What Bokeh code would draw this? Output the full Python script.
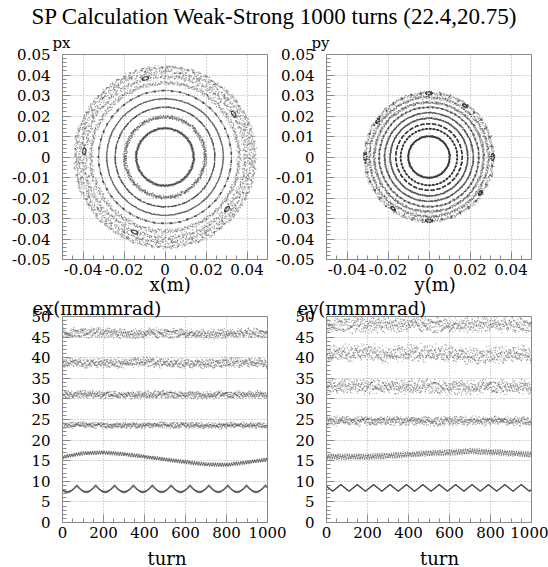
import numpy as np
from bokeh.plotting import figure
from bokeh.layouts import column, row
from bokeh.models import Range1d, FixedTicker, Title
from bokeh.core.properties import value
from bokeh.embed import file_html
from bokeh.resources import INLINE

# ---------------- data ----------------
title_text = "SP Calculation Weak-Strong 1000 turns (22.4,20.75)"
turns = np.arange(1000)

phase_ticks_x = [-0.04, -0.02, 0.0, 0.02, 0.04]
phase_labels_x = ["-0.04", "-0.02", "0", "0.02", "0.04"]
phase_ticks_y = [-0.05, -0.04, -0.03, -0.02, -0.01, 0.0, 0.01, 0.02, 0.03, 0.04, 0.05]
phase_labels_y = ["-0.05", "-0.04", "-0.03", "-0.02", "-0.01", "0",
                  "0.01", "0.02", "0.03", "0.04", "0.05"]
turn_ticks = [0, 200, 400, 600, 800, 1000]
turn_labels = ["0", "200", "400", "600", "800", "1000"]
emit_ticks = [0, 5, 10, 15, 20, 25, 30, 35, 40, 45, 50]
emit_labels = ["0", "5", "10", "15", "20", "25", "30", "35", "40", "45", "50"]

# horizontal phase space: invariant circles (m), radial spread, tunes
x_ring_radius = [0.0140, 0.0196, 0.0243, 0.0284, 0.0324, 0.0362, 0.0393, 0.0417, 0.0438]
x_ring_spread = [0.0007, 0.0011, 0.0003, 0.0003, 0.0004, 0.0014, 0.0015, 0.0015, 0.0012]
x_ring_tune = [0.386237, 0.388951, 0.390813, 0.392677, 0.394269, 0.395531, 0.396617, 0.397389, 0.398143]
x_island_radius = [0.0395]
x_island_angle = [32.0]          # degrees, 5 islands (tune 0.4)
x_island_size = [0.0008]

# vertical phase space
y_ring_radius = [0.0101, 0.0138, 0.0162, 0.0189, 0.0216, 0.0243, 0.0267, 0.0291, 0.0312]
y_ring_spread = [0.0005, 0.0003, 0.0003, 0.0004, 0.0004, 0.0005, 0.0008, 0.0010, 0.0011]
y_ring_tune = [0.738917, 0.741283, 0.742861, 0.744219, 0.745337, 0.746271, 0.747043, 0.747719, 0.748307]
y_island_radius = [0.0311, 0.0306]
y_island_angle = [90.0, 55.0]    # degrees, 4 islands each (tune 0.75)
y_island_size = [0.0008, 0.0006]

# emittance (pi mm mrad): band centre read every 100 turns, half widths
trend_turns = [0, 100, 200, 300, 400, 500, 600, 700, 800, 900, 1000]
ex_trend = [
    [8.2, 8.2, 8.2, 8.2, 8.2, 8.2, 8.2, 8.2, 8.2, 8.2, 8.2],
    [15.9, 16.8, 17.0, 16.6, 16.0, 15.3, 14.7, 14.1, 14.0, 14.6, 15.3],
    [23.6, 23.7, 23.6, 23.5, 23.6, 23.7, 23.6, 23.5, 23.5, 23.6, 23.6],
    [31.0, 31.1, 31.0, 30.9, 31.0, 31.1, 31.0, 30.9, 31.0, 31.1, 31.0],
    [38.9, 38.8, 38.6, 38.8, 39.0, 38.8, 38.6, 38.7, 38.9, 38.8, 38.7],
    [46.0, 46.1, 46.0, 45.8, 45.9, 46.0, 45.9, 45.7, 45.8, 46.0, 45.9],
]
ex_halfwidth = [0.8, 0.5, 0.85, 1.05, 1.4, 1.4]
ey_trend = [
    [8.4, 8.4, 8.4, 8.4, 8.4, 8.4, 8.4, 8.4, 8.4, 8.4, 8.4],
    [16.0, 16.0, 16.0, 16.2, 16.5, 16.8, 17.0, 17.3, 17.1, 16.8, 16.5],
    [24.7, 24.6, 24.7, 24.6, 24.7, 24.6, 24.6, 24.7, 24.6, 24.6, 24.6],
    [33.0, 33.0, 32.9, 32.9, 33.0, 33.0, 32.8, 32.8, 32.9, 33.0, 32.9],
    [41.0, 41.3, 41.2, 40.9, 41.1, 41.3, 41.0, 40.7, 40.6, 40.8, 41.0],
    [48.2, 48.0, 47.8, 48.0, 48.2, 48.0, 47.8, 48.0, 48.2, 48.0, 47.9],
]
ey_halfwidth = [0.8, 0.8, 1.3, 2.0, 2.4, 2.2]
ex_core_period = 92.0   # turns between minima of the lowest ex band
ey_core_period = 80.0   # turns between peaks of the lowest ey band

TITLE_FONT = "'Liberation Serif', 'Times New Roman', serif"
FONT = "DejaVu Serif"
DOT = "#303030"
FRAME = "#8a8a8a"
SQRT2, SQRT3, SQRT5, SQRT7 = np.sqrt(2), np.sqrt(3), np.sqrt(5), np.sqrt(7)


def weyl(n, a, b):
    """deterministic equidistributed sequence in [-1, 1]"""
    return 2.0 * np.mod(a * n * n + b * n, 1.0) - 1.0


def ring_track(radius, spread, tune, qmod):
    xs, ys = [], []
    for i, (r0, dr, q) in enumerate(zip(radius, spread, tune)):
        ph = 2 * np.pi * q * turns + 0.7 * i + 0.05 * np.sin(2 * np.pi * qmod * turns + i)
        r = r0 + dr * (0.55 * weyl(turns, SQRT2 * (i + 1), SQRT3) + 0.45 * weyl(turns, SQRT5 / (i + 2), SQRT7))
        xs.append(r * np.cos(ph))
        ys.append(r * np.sin(ph))
    return np.concatenate(xs), np.concatenate(ys)


def island_track(radius, angle, size, step):
    xs, ys = [], []
    for r0, a0, s in zip(radius, angle, size):
        k = np.arange(250)
        base = np.deg2rad(a0) + 2 * np.pi * step * k
        psi = 2 * np.pi * 0.0937 * k
        rr = r0 + s * np.cos(psi)
        aa = base + (2.0 * s / r0) * np.sin(psi)
        xs.append(rr * np.cos(aa))
        ys.append(rr * np.sin(aa))
    return np.concatenate(xs), np.concatenate(ys)


def trend(vals):
    return np.interp(turns, trend_turns, vals)


def bands(trends, halfwidth, core, core_period):
    ts, es = [], []
    for k, (tv, hw) in enumerate(zip(trends, halfwidth)):
        c = trend(tv)
        if k == 0:
            if core == "x":
                ph = np.pi * (turns - 24) / core_period
                e = c + hw * (1 - 2 * np.abs(np.cos(ph))) \
                    + 0.15 * np.cos(np.pi * turns) * np.cos(2 * ph)
            else:
                u = (turns - 70) / core_period
                e = c + hw * (1 - 4 * np.abs(u - np.floor(u + 0.5)))
        elif k == 1:
            u = turns / 11.3
            e = c + hw * (0.8 * (1 - 4 * np.abs(u - np.floor(u + 0.5)))
                          + 0.2 * weyl(turns, SQRT3, SQRT2))
        else:
            e = c + hw * (0.6 * weyl(turns, SQRT2 * k, SQRT5) + 0.4 * weyl(turns, SQRT7 / k, SQRT3))
        ts.append(turns)
        es.append(e)
    return np.concatenate(ts), np.concatenate(es)


def styled(width, height, left, right, top, bottom, xr, yr,
           xticks, xlabels, xminor, yticks, ylabels, yminor):
    p = figure(width=width, height=height, x_range=Range1d(*xr), y_range=Range1d(*yr),
               output_backend="svg", toolbar_location=None, title=None,
               min_border_left=left, min_border_right=right,
               min_border_top=top, min_border_bottom=bottom)
    p.outline_line_color = FRAME
    p.outline_line_width = 1
    for ax, ticks, labels, minor in ((p.xaxis[0], xticks, xlabels, xminor),
                                     (p.yaxis[0], yticks, ylabels, yminor)):
        ax.ticker = FixedTicker(ticks=ticks, minor_ticks=minor)
        ax.major_label_overrides = {t: l for t, l in zip(ticks, labels)}
        ax.axis_line_color = FRAME
        ax.major_tick_line_color = FRAME
        ax.minor_tick_line_color = FRAME
        ax.major_tick_in = 8
        ax.major_tick_out = 0
        ax.minor_tick_in = 4
        ax.minor_tick_out = 0
        ax.major_label_text_font = FONT
        ax.major_label_text_font_size = "15px"
        ax.major_label_text_color = "black"
    p.xaxis[0].major_label_standoff = 4
    p.yaxis[0].major_label_standoff = 12
    p.grid.grid_line_color = "#a8a8a8"
    p.grid.grid_line_dash = "1 2"
    p.grid.grid_line_width = 1
    return p


def add_title(p, text, size, offset, standoff, valign="bottom", place="above"):
    p.add_layout(Title(text=text, align="left", offset=offset, standoff=standoff,
                       vertical_align=valign, text_font=FONT, text_font_size=size,
                       text_font_style="normal", text_color="black"), place)


phase_minor_x = [round(v, 4) for v in np.arange(-0.05, 0.0501, 0.005)]
phase_minor_y = [round(v, 4) for v in np.arange(-0.05, 0.0501, 0.002)]
turn_minor = list(range(0, 1001, 50))
emit_minor = list(range(0, 51, 1))

# title strip
pt = figure(width=548, height=31, x_range=Range1d(0, 1), y_range=Range1d(0, 1),
            output_backend="svg", toolbar_location=None, min_border=0,
            min_border_left=0, min_border_right=0, min_border_top=0, min_border_bottom=0)
pt.axis.visible = False
pt.grid.visible = False
pt.outline_line_color = None
pt.title.text = title_text
pt.title.align = "center"
pt.title.standoff = 2
pt.title.text_font = TITLE_FONT
pt.title.text_font_size = "23px"
pt.title.text_font_style = "normal"
pt.title.text_color = "black"

# px - x
p1 = styled(273, 267, 62, 6, 23, 39, (-0.05, 0.05), (-0.05, 0.05),
            phase_ticks_x, phase_labels_x, phase_minor_x, phase_ticks_y, phase_labels_y, phase_minor_y)
xx, xp = ring_track(x_ring_radius, x_ring_spread, x_ring_tune, 0.1597)
ix, ip = island_track(x_island_radius, x_island_angle, x_island_size, 0.4)
p1.scatter(np.concatenate([xx, ix]), np.concatenate([xp, ip]), size=1.3,
           fill_color=DOT, line_color=None, fill_alpha=0.42)
add_title(p1, "px", "15px", -10, 2, "top")
add_title(p1, "x(m)", "18px", 87, -8, "top", "below")

# py - y
p2 = styled(275, 267, 53, 17, 23, 39, (-0.05, 0.05), (-0.05, 0.05),
            phase_ticks_x, phase_labels_x, phase_minor_x, phase_ticks_y, phase_labels_y, phase_minor_y)
yy, yp = ring_track(y_ring_radius, y_ring_spread, y_ring_tune, 0.1597)
jy, jp = island_track(y_island_radius, y_island_angle, y_island_size, 0.75)
p2.scatter(np.concatenate([yy, jy]), np.concatenate([yp, jp]), size=1.3,
           fill_color=DOT, line_color=None, fill_alpha=0.42)
add_title(p2, "py", "15px", -15, 2, "top")
add_title(p2, "y(m)", "18px", 88, -8, "top", "below")

# ex
p3 = styled(290, 247, 62, 23, 18, 23, (0, 1000), (0, 50),
            turn_ticks, turn_labels, turn_minor, emit_ticks, emit_labels, emit_minor)
tx, ex = bands(ex_trend, ex_halfwidth, "x", ex_core_period)
p3.scatter(tx, ex, size=1.3, fill_color=DOT, line_color=None, fill_alpha=0.42)
add_title(p3, "ex(\u03c0mmmrad)", "18px", -30, -5)

# ey
p4 = styled(258, 247, 36, 17, 18, 23, (0, 1000), (0, 50),
            turn_ticks, turn_labels, turn_minor, emit_ticks, emit_labels, emit_minor)
ty, ey = bands(ey_trend, ey_halfwidth, "y", ey_core_period)
p4.scatter(ty, ey, size=1.3, fill_color=DOT, line_color=None, fill_alpha=0.42)
add_title(p4, "ey(\u03c0mmmrad)", "18px", -29, -5)

# strip holding the two "turn" axis titles
pb = figure(width=548, height=22, x_range=Range1d(0, 548), y_range=Range1d(0, 22),
            output_backend="svg", toolbar_location=None, title=None, min_border=0,
            min_border_left=0, min_border_right=0, min_border_top=0, min_border_bottom=0)
pb.axis.visible = False
pb.grid.visible = False
pb.outline_line_color = None
pb.text(x=[166.5, 439.0], y=[9.5, 9.5], text=["turn", "turn"], text_font=value(FONT),
        text_font_size="18px", text_align="center", text_baseline="alphabetic",
        text_color="black")

layout = column(pt, row(p1, p2), row(p3, p4), pb)
open("out.html", "w").write(file_html(layout, INLINE))
